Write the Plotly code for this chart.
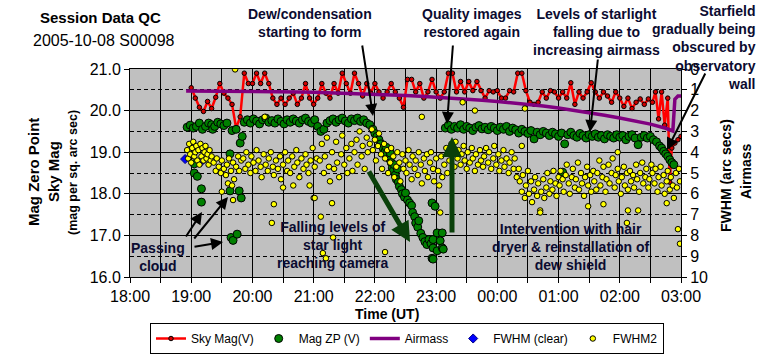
import plotly.graph_objects as go

# ---------------- data (time = minutes after 18:00 UT) ----------------
hour_labels = ["18:00", "19:00", "20:00", "21:00", "22:00", "23:00",
               "00:00", "01:00", "02:00", "03:00"]

sky_min = [60, 64, 68, 72, 76, 80, 84, 88, 92, 96, 100, 104, 108, 112, 116, 120, 124, 128,
           132, 136, 140, 144, 148, 152, 156, 160, 164, 168, 172, 176, 180, 184, 188, 192,
           196, 200, 204, 208, 212, 216, 220, 224, 228, 232, 236, 240, 244, 248, 252, 256,
           260, 264, 268, 272, 276, 280, 284, 288, 292, 296, 300, 304, 308, 312, 316, 320,
           324, 328, 332, 336, 340, 344, 348, 352, 356, 360, 364, 368, 372, 376, 380, 384,
           388, 392, 396, 400, 404, 408, 412, 416, 420, 424, 428, 432, 436, 440, 444, 448,
           452, 456, 460, 464, 468, 472, 476, 480, 484, 488, 492, 496, 500, 504, 508,
           512, 515, 518, 521, 524, 527, 529, 531, 534, 537, 540]
sky_mag = [20.55, 20.30, 20.08, 19.98, 20.22, 20.05, 20.32, 20.65, 20.42, 20.30, 20.15, 19.58,
           19.85, 20.90, 20.65, 20.65, 20.90, 20.65, 20.90, 20.65, 20.30, 20.15, 20.30, 20.15,
           20.30, 20.42, 20.15, 20.30, 20.65, 20.30, 20.15, 20.30, 20.65, 20.42, 20.30, 20.65,
           20.42, 20.90, 20.65, 20.42, 20.90, 20.65, 20.35, 20.65, 20.42, 20.65, 20.45, 20.30,
           20.45, 20.65, 20.45, 20.30, 20.08, 20.75, 20.75, 20.45, 20.65, 20.30, 20.45, 20.75,
           20.45, 20.30, 20.45, 20.90, 20.90, 20.45, 20.70, 20.45, 20.70, 20.48, 20.70, 20.48,
           20.30, 20.48, 20.45, 20.48, 20.30, 20.30, 20.48, 20.45, 20.90, 20.90, 20.48, 20.20,
           20.15, 20.20, 20.45, 20.30, 20.48, 20.45, 20.30, 20.45, 20.30, 20.67, 20.15, 20.45,
           20.30, 20.45, 20.67, 20.45, 20.30, 20.45, 20.35, 20.20, 20.45, 20.30, 20.10, 20.30,
           20.05, 20.20, 20.28, 20.15, 20.28,
           20.20, 20.45, 19.80, 20.45, 19.65, 20.30, 18.28, 19.10, 19.22, 19.30, 19.38]

zp_min = [56, 59, 62, 62, 63, 63, 64, 65, 66, 68, 70, 70, 71, 74, 77, 80, 81, 83, 86, 89,
          92, 95, 98, 98, 99, 100, 101, 104, 105, 107, 108, 109, 110,
          112, 115, 118, 121, 124, 127, 130, 133, 136, 139, 142, 145, 148, 151, 154, 157,
          160, 163, 166, 169, 172, 175, 178, 181, 184, 187, 190, 193, 196, 199, 202, 205,
          208, 211, 214, 217, 220, 223, 226, 229, 232, 235,
          238, 240, 242, 244, 246, 248, 250, 251, 252, 254, 255, 256, 257, 258, 259, 260,
          261, 262, 263, 264, 266, 267, 269, 270, 272, 274, 276, 277, 279, 280, 282, 283,
          285, 287, 289, 291, 293, 295, 296, 296, 297, 297, 297, 299, 301, 301, 304, 306,
          306, 307,
          309, 312, 315, 318, 321, 324, 327, 330, 333, 336, 339, 342, 345, 348, 351, 354,
          357, 360, 363, 366, 369, 372, 375, 378, 381, 384, 387, 390, 393, 396, 399, 402,
          405, 408, 411, 414, 417, 420, 423, 424, 426, 429, 432, 435, 438, 441, 444, 447,
          450, 453, 456, 459, 462, 465, 468, 471, 474, 477, 480, 483, 486, 489, 492, 495,
          498, 501, 504, 507, 510,
          513, 516, 519, 521, 523, 525, 527, 529, 531, 533]
zp_mag = [19.60, 19.65, 19.58, 19.15, 18.72, 18.50, 19.10, 19.62, 18.42, 19.70, 18.12, 17.80,
          19.55, 19.62, 19.70, 19.66, 19.55, 19.62, 19.72, 19.68, 19.64, 19.70, 18.96, 18.07,
          16.95, 19.52, 16.88, 19.55, 17.03, 18.07, 19.22, 17.90, 19.38,
          19.72, 19.78, 19.70, 19.80, 19.75, 19.68, 19.78, 19.82, 19.72, 19.76, 19.70, 19.80,
          19.74, 19.68, 19.78, 19.72, 19.80, 19.75, 19.70, 19.78, 19.82, 19.74, 19.70, 19.78,
          19.62, 19.50, 19.55, 19.70, 19.76, 19.80, 19.72, 19.78, 19.82, 19.75, 19.70, 19.80,
          19.76, 19.82, 19.74, 19.78, 19.70, 19.66,
          19.55, 19.45, 19.38, 19.30, 19.20, 19.10, 19.02, 19.12, 18.95, 18.85, 18.98, 18.75,
          18.62, 18.55, 18.70, 18.45, 18.35, 18.60, 18.28, 18.18, 18.10, 18.00, 17.92, 18.02,
          17.85, 17.78, 17.72, 17.55, 17.45, 17.30, 17.20, 17.35, 17.05, 16.95, 16.85, 16.78,
          16.90, 16.80, 16.45, 17.78, 16.70, 16.90, 16.43, 17.70, 17.06, 16.63, 16.87, 17.06,
          16.70, 16.67,
          19.58, 19.65, 19.55, 19.62, 19.58, 19.66, 19.55, 19.62, 19.58, 19.52, 19.60, 19.64,
          19.56, 19.60, 19.54, 19.62, 19.58, 19.52, 19.60, 19.55, 19.62, 19.50, 19.58, 19.54,
          19.46, 19.55, 19.50, 19.45, 19.52, 19.32, 19.48, 19.42, 19.50, 19.46, 19.40, 19.48,
          19.44, 19.38, 19.46, 18.52, 19.20, 19.42, 19.48, 19.40, 19.36, 19.45, 19.40, 19.34,
          19.42, 19.38, 19.44, 19.36, 19.40, 19.32, 19.42, 19.38, 19.34, 19.42, 19.36, 19.40,
          19.30, 19.38, 19.42, 19.34, 19.18, 19.36, 19.40, 19.34, 19.38,
          19.30, 19.25, 19.15, 19.10, 19.02, 18.96, 18.90, 18.82, 18.75, 18.70]

airmass_min = [55, 75, 90, 105, 120, 135, 150, 165, 180, 195, 210, 225, 240, 255, 270, 285,
               300, 315, 330, 345, 360, 375, 390, 405, 420, 435, 450, 465, 480, 495, 510,
               525, 532, 534, 537, 540]
airmass = [1.06, 1.06, 1.06, 1.06, 1.07, 1.08, 1.10, 1.10, 1.12, 1.14, 1.16, 1.18, 1.20,
           1.23, 1.27, 1.31, 1.35, 1.40, 1.45, 1.50, 1.56, 1.62, 1.70, 1.78, 1.88, 1.98,
           2.10, 2.22, 2.36, 2.50, 2.65, 2.85, 2.98, 1.45, 1.30, 1.30]

fwhm_clear_min = [54, 70]
fwhm_clear = [4.33, 4.45]

fwhm2_min = [56, 57, 58, 59, 60, 61, 62, 63, 64, 65, 66, 67, 68, 69, 70, 71, 72, 73, 74, 75,
             76, 77, 78, 79, 80,
             82, 84, 85, 87, 89, 90, 90, 92, 94, 95, 96, 97, 99, 100, 101, 101, 102, 103,
             104, 106, 107, 109,
             111, 113, 114, 116, 118, 119, 121, 123, 124, 126, 128, 129, 131, 132, 133, 135,
             136, 138, 139, 140, 141, 141, 143, 145, 147, 148, 150, 150, 152, 154, 155, 157,
             159, 160, 161, 163, 164, 166, 168, 170, 172, 173, 175, 176, 177, 179, 180, 181,
             181, 183,
             186, 187, 188, 189, 190, 191, 192, 193, 195, 196, 198, 198, 199, 200, 202, 203,
             205, 207, 208, 210, 212, 213, 215, 217, 218, 220, 222, 223, 225, 227, 228, 230,
             232, 233, 235,
             237, 238, 240, 241, 243, 244, 246, 247, 249, 250, 250, 252, 253, 255, 256, 258,
             259, 261, 262, 264, 265, 267, 268, 270, 271, 273, 274, 276, 277, 279, 280, 282,
             283, 285, 286, 286, 288, 289, 291, 292, 294, 295, 297, 298, 300,
             302, 303, 304, 305, 306, 308, 310, 311, 313, 315, 316, 318, 319, 321, 322, 324,
             325, 326, 327, 328, 330, 331, 333, 335, 336, 338, 338, 339, 341, 343, 344, 346,
             347, 349, 351, 352, 354, 356, 357, 359, 361, 362, 364, 366, 367, 369, 371, 372,
             374, 376, 377, 379,
             381, 382, 384, 384, 385, 387, 387, 388, 390, 391, 393, 394, 396, 397, 399, 400,
             402, 402, 403, 405, 406, 408, 409, 411, 412, 414, 415, 417, 418, 420,
             421, 422, 424, 425, 427, 428, 430, 431, 433, 434, 436, 437, 439, 440, 442, 443,
             445, 446, 448, 449, 449, 451, 452, 454, 455, 457, 458, 460, 461, 463, 464, 464,
             466, 467, 469, 470, 472, 473, 475, 476, 478, 478, 479, 481, 482, 484, 485, 487,
             487, 488, 488, 490, 491, 493, 494, 496, 497, 498, 499, 500, 502, 503, 505, 506,
             508, 509, 511, 512, 514, 515, 517, 518, 520, 521, 523, 524, 526, 526, 527, 529,
             530, 532, 533, 535, 536, 537, 538, 539, 539]
fwhm2 = [3.9, 4.3, 3.6, 4.1, 4.5, 3.8, 3.5, 4.2, 4.0, 3.7, 4.4, 3.9, 4.6, 3.6, 4.2, 3.8, 4.4,
         4.0, 3.7, 4.3, 4.1, 4.6, 3.9, 4.4, 4.2,
         4.5, 4.9, 4.3, 4.7, 5.0, 4.4, 5.9, 4.8, 5.1, 4.6, 5.5, 4.3, 4.9, 5.6, 4.5, 6.3, 5.3,
         0.02, 4.7, 4.2, 4.9, 4.4,
         4.3, 4.8, 4.0, 4.6, 5.0, 4.2, 4.5, 4.9, 3.9, 4.4, 4.7, 5.2, 4.1, 2.3, 4.6, 4.9, 4.3,
         4.0, 7.4, 4.7, 5.1, 6.5, 4.4, 4.8, 4.2, 5.3, 4.6, 5.7, 4.0, 4.9, 4.4, 5.0, 4.2, 5.6,
         4.7, 3.9, 4.5, 5.2, 4.3, 4.8, 4.1, 4.6, 5.0, 5.6, 4.4, 3.8, 6.2, 4.7, 6.2, 4.3,
         4.4, 7.1, 3.6, 8.85, 5.0, 4.2, 9.1, 3.3, 4.7, 5.4, 4.0, 6.45, 8.1, 4.8, 3.5, 4.5,
         5.2, 4.1, 3.2, 4.6, 3.8, 5.0, 4.3, 3.6, 4.9, 4.0, 3.4, 4.6, 3.0, 4.2, 3.7, 4.8, 3.3,
         4.0, 3.6,
         2.9, 3.9, 3.4, 4.4, 3.7, 3.1, 4.1, 4.8, 3.6, 4.3, 8.8, 3.9, 5.0, 4.5, 3.8, 4.2, 5.2,
         4.7, 4.0, 4.5, 5.4, 4.1, 4.8, 4.4, 5.0, 3.9, 4.6, 5.3, 4.2, 4.8, 4.4, 5.1, 4.0, 4.6,
         5.5, 2.3, 4.3, 4.9, 4.1, 5.2, 4.5, 4.0, 4.8, 5.4, 4.3,
         4.9, 5.6, 6.9, 4.2, 5.2, 4.6, 3.8, 5.0, 4.4, 3.6, 4.1, 4.7, 3.5, 4.3, 3.9, 4.6, 4.1,
         1.6, 3.7, 4.4, 4.8, 4.0, 4.5, 3.8, 4.3, 4.9, 2.0, 4.1, 4.6, 3.9, 4.4, 4.7, 4.2, 3.8,
         4.5, 4.0, 4.8, 4.3, 3.7, 4.6, 4.1, 4.9, 4.4, 3.9, 4.7, 4.3, 5.0, 4.5, 4.0, 4.8, 4.3,
         5.2,
         4.8, 5.4, 5.9, 3.7, 5.1, 6.2, 1.9, 5.6, 4.9, 6.0, 5.4, 6.4, 5.8, 5.2, 6.1, 5.5, 6.8,
         6.9, 5.9, 5.3, 6.2, 5.7, 5.0, 6.0, 5.4, 5.8, 4.9, 5.5, 6.1, 5.2,
         5.6, 4.9, 5.3, 5.9, 5.1, 4.6, 5.5, 6.0, 5.2, 4.8, 5.7, 5.3, 4.5, 5.8, 5.0, 5.5, 6.1,
         5.2, 4.7, 5.6, 6.6, 5.1, 5.9, 4.9, 5.4, 5.8, 5.0, 4.4, 5.6, 5.2, 4.7, 6.5, 5.9, 5.3,
         4.6, 5.5, 5.0, 4.3, 5.7, 5.1, 4.8, 4.0, 5.4, 6.0, 5.2, 4.7, 5.6, 5.0, 7.4, 5.8, 6.8,
         4.9, 5.4, 5.1, 5.7, 4.6, 5.3, 6.8, 5.9, 5.0, 4.5, 5.5, 5.2, 4.8, 5.7, 5.3, 4.6, 5.0,
         5.5, 4.8, 5.9, 5.2, 4.7, 5.6, 5.1, 6.0, 5.4, 6.45, 4.9, 5.8, 5.2, 5.6, 6.2, 5.0, 5.7,
         7.7, 4.8, 5.4, 8.4]

assert len(sky_min) == len(sky_mag)
assert len(zp_min) == len(zp_mag)
assert len(airmass_min) == len(airmass)
assert len(fwhm2_min) == len(fwhm2)

# ---------------- layout helpers (pixel -> paper) ----------------
L, R, T, B = 130, 681, 69, 277
def PX(x):
    return (x - L) / (R - L)
def PY(y):
    return (B - y) / (B - T)

FONT = "Arial, Liberation Sans, sans-serif"
TXT = "#0b0b30"

fig = go.Figure()
fig.add_trace(go.Scatter(
    x=sky_min, y=sky_mag, name="Sky Mag(V)", mode="lines+markers",
    line=dict(color="#ff0000", width=2.5),
    marker=dict(size=4.5, color="#d00000", line=dict(color="black", width=1))))
fig.add_trace(go.Scatter(
    x=zp_min, y=zp_mag, name="Mag ZP (V)", mode="markers",
    marker=dict(size=8, color="#008000", line=dict(color="black", width=1))))
fig.add_trace(go.Scatter(
    x=airmass_min, y=airmass, name="Airmass", mode="lines", yaxis="y2",
    line=dict(color="#800080", width=3.5)))
fig.add_trace(go.Scatter(
    x=fwhm_clear_min, y=fwhm_clear, name="FWHM (clear)", mode="markers", yaxis="y2",
    marker=dict(symbol="diamond", size=7, color="#0000ff", line=dict(color="#000080", width=1))))
fig.add_trace(go.Scatter(
    x=fwhm2_min, y=fwhm2, name="FWHM2", mode="markers", yaxis="y2",
    marker=dict(size=5.5, color="#ffff00", line=dict(color="black", width=1))))

x_tickvals = [0, 30, 60, 90, 120, 150, 180, 210, 240, 270, 300, 330, 360, 390, 420, 450,
              480, 510, 540]
x_ticktext = []
for i in range(len(x_tickvals)):
    x_ticktext.append(hour_labels[i // 2] if i % 2 == 0 else "")

fig.update_layout(
    width=764, height=358,
    margin=dict(l=L, r=764 - R, t=T, b=358 - B, autoexpand=False),
    paper_bgcolor="white", plot_bgcolor="#c0c0c0",
    font=dict(family=FONT, color="black", size=12),
    xaxis=dict(range=[0, 540], tickmode="array", tickvals=x_tickvals, ticktext=x_ticktext,
               ticks="outside", ticklen=5, tickcolor="black", showline=True, linecolor="black",
               mirror=True, showgrid=True, gridcolor="black", gridwidth=1, zeroline=False,
               tickfont=dict(size=16, family=FONT)),
    yaxis=dict(range=[16, 21], tick0=16, dtick=1, tickformat=".1f", ticks="outside",
               ticklen=5, tickcolor="black", showline=True, linecolor="black",
               showgrid=True, gridcolor="black", gridwidth=1, zeroline=False,
               tickfont=dict(size=16, family=FONT),
               minor=dict(tick0=16, dtick=0.5, showgrid=True, gridcolor="black",
                          griddash="4px,3px", gridwidth=1, ticks="")),
    yaxis2=dict(overlaying="y", side="right", range=[10, 0], tickmode="array",
                tickvals=[0, 1, 2, 3, 4, 5, 6, 7, 8, 9, 10], ticks="outside", ticklen=5,
                tickcolor="black", showline=True, linecolor="black", showgrid=False,
                zeroline=False, tickfont=dict(size=16, family=FONT)),
    legend=dict(orientation="h", x=PX(407), y=PY(323), xanchor="center", yanchor="top",
                bgcolor="white", bordercolor="black", borderwidth=1,
                font=dict(size=12, family=FONT), traceorder="normal"),
)

ann = []
def text(x, y, s, size=14, angle=0, xanchor="center", align="center", color=TXT, bold=True):
    ann.append(dict(x=PX(x), y=PY(y), xref="paper", yref="paper", showarrow=False,
                    text=("<b>%s</b>" % s) if bold else s, textangle=angle,
                    xanchor=xanchor, yanchor="middle", align=align,
                    font=dict(size=size, family=FONT, color=color)))

def arrow(tail, tip, color="black", width=2, head=2, size=1.2):
    ann.append(dict(x=PX(tip[0]), y=PY(tip[1]), xref="paper", yref="paper", text="",
                    showarrow=True, ax=tail[0] - tip[0], ay=tail[1] - tip[1],
                    arrowcolor=color, arrowwidth=width, arrowhead=head, arrowsize=size))

# titles
text(100, 17, "Session Data QC", size=15, color="black")
text(104, 40, "2005-10-08 S00098", size=16, color="black", bold=False)
text(387, 314, "Time (UT)", size=14, color="black")
text(33, 172, "Mag Zero Point", size=15, angle=-90, color="black")
text(53, 172, "Sky Mag", size=15, angle=-90, color="black")
text(73, 173, "(mag per sq. arc sec)", size=12.5, angle=-90, color="black")
text(726, 176, "FWHM (arc secs)", size=14, angle=-90, color="black")
text(746, 172, "Airmass", size=14, angle=-90, color="black")

# callouts
text(310, 23, "Dew/condensation<br>starting to form")
text(472, 23, "Quality images<br>restored again")
text(596, 32, "Levels of starlight<br>falling due to<br>increasing airmass")
text(758, 48, "Starfield<br>gradually being<br>obscured by<br>observatory<br>wall",
     xanchor="right", align="right")
text(158, 257, "Passing<br>cloud")
text(332, 245, "Falling levels of<br>star light<br>reaching camera")
text(570, 247, "Intervention with hair<br>dryer &amp; reinstallation of<br>dew shield")

arrow((362, 44), (373, 116))
arrow((453, 44), (447, 124))
arrow((598, 58), (590, 132))
arrow((706, 72), (667, 150))
arrow((185, 238), (202, 212))
arrow((193, 240), (228, 197))
arrow((193, 247), (223, 242))
arrow((368, 170), (410, 242), color="#0a400a", width=5, head=2, size=0.8)
arrow((452, 234), (452, 137), color="#0a400a", width=5, head=2, size=0.8)

fig.update_layout(annotations=ann)
fig.write_html("out.html", config={"displayModeBar": False},
               post_script="document.body.style.margin='0';document.body.style.overflow='hidden';")
